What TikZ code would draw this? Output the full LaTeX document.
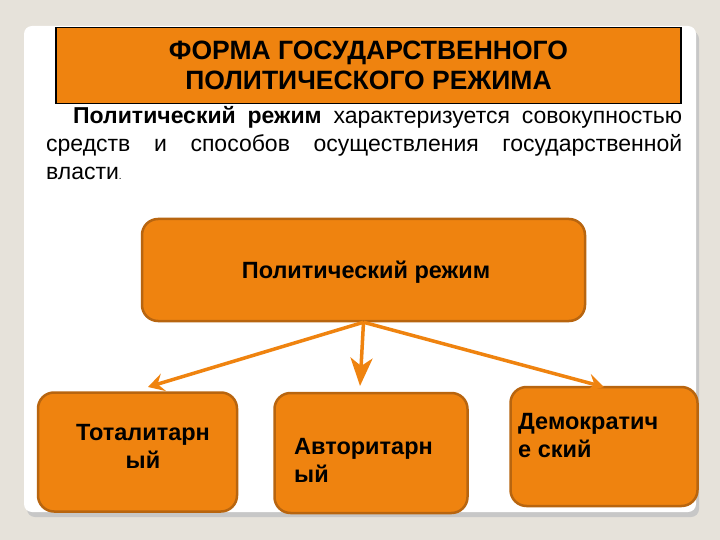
\documentclass[tikz,border=0pt]{standalone}
\usepackage{fontspec}
\setmainfont{Liberation Sans}
\usetikzlibrary{arrows.meta}
\definecolor{fon}{HTML}{E6E2DA}
\definecolor{oranzh}{HTML}{EF830F}
\definecolor{kant}{HTML}{B8650F}
\begin{document}
\begin{tikzpicture}[x=1pt,y=-1pt]
\tikzset{blok/.style={draw=kant, line width=2.5pt, fill=oranzh, rounded corners=16pt, inner sep=0pt}}
\tikzset{tekst/.style={inner sep=0pt, font=\bfseries\fontsize{23.5}{28}\selectfont}}
\tikzset{strelka/.style={draw=oranzh, line width=3.5pt, -{Stealth[length=16pt,width=18pt,inset=6pt]}}}
\useasboundingbox (0,0) rectangle (720,540);
\fill[fon] (0,0) rectangle (720,540);
\fill[black!22, rounded corners=8pt] (27,31) rectangle (699,517);
\fill[white, rounded corners=8pt] (24,26) rectangle (696,512);
\node[draw, line width=1.5pt, fill=oranzh, minimum width=625pt, minimum height=76pt, inner sep=0pt, align=center, font=\bfseries\fontsize{26.5}{30}\selectfont] (titul) at (368.5,65.5) {ФОРМА ГОСУДАРСТВЕННОГО\\ПОЛИТИЧЕСКОГО РЕЖИМА};
\node[text width=636pt, inner sep=0pt, anchor=north west, align=justify, font=\fontsize{23}{28}\selectfont] (opis) at (46,106) {\hspace*{27pt}\textbf{Политический режим} характеризуется совокупностью средств и способов осуществления государственной власти{\fontsize{10}{10}\selectfont.}};
\node[blok, minimum width=443pt, minimum height=102pt] (rezhim) at (363.5,270) {};
\node[tekst] (rezhimT) at (366,272) {Политический режим};
\node[blok, minimum width=199pt, minimum height=119pt] (total) at (137.5,452) {};
\node[blok, minimum width=193pt, minimum height=120pt] (avtor) at (371,453) {};
\node[blok, minimum width=187pt, minimum height=119pt] (demo) at (604,446.5) {};
\node[tekst, align=center] (totalT) at (143,446) {Тоталитарн\\ый};
\node[tekst, align=left, anchor=north west] (avtorT) at (294,438) {Авторитарн\\ый};
\node[tekst, align=left, anchor=north west] (demoT) at (518,413) {Демократич\\е ский};
\coordinate (kT) at (148,387);
\coordinate (kA) at (360,386);
\coordinate (kD) at (604,387);
\draw[strelka] (rezhim.south) -- (kT);
\draw[strelka, -{Stealth[length=28pt,width=22pt,inset=8pt]}] (rezhim.south) -- (kA);
\draw[strelka] (rezhim.south) -- (kD);
\end{tikzpicture}
\end{document}
